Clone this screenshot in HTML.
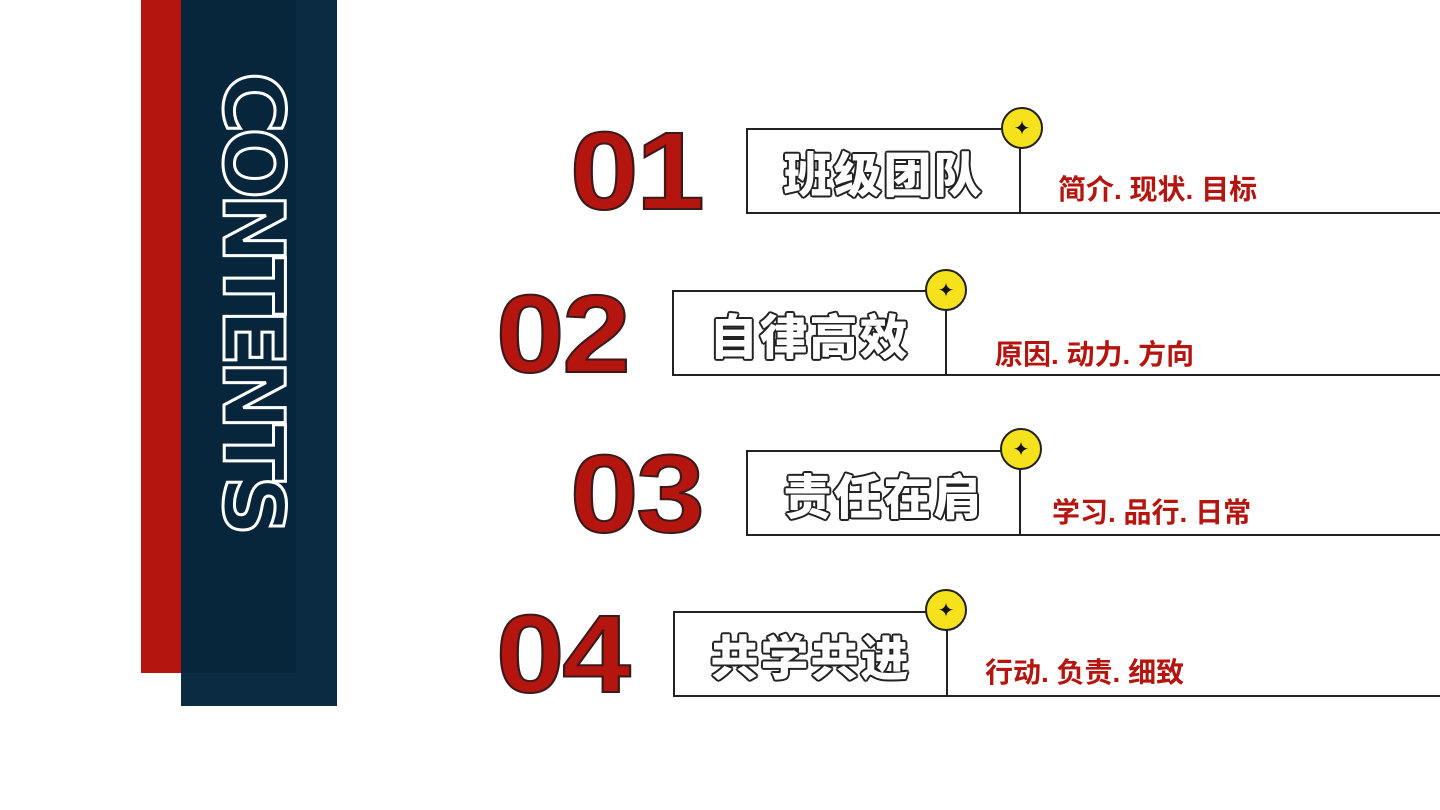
<!DOCTYPE html>
<html><head><meta charset="utf-8"><style>
body{margin:0;width:1440px;height:810px;background:#fff;position:relative;overflow:hidden;font-family:"Liberation Sans","Noto Sans CJK SC",sans-serif}
.a{position:absolute}
.num{position:absolute;font-weight:bold;font-size:110px;line-height:1;color:#b5150f;-webkit-text-stroke:2px #3a1a1a;letter-spacing:-2px;transform:scaleX(1.12);transform-origin:left top}
.box{position:absolute;width:275px;height:86px;border:2px solid #222;box-sizing:border-box;display:flex;align-items:center;justify-content:center;font-size:48px;font-weight:900;color:#fff;letter-spacing:2px;font-family:"Noto Sans CJK SC",sans-serif;
text-shadow:2px 0 #222,-2px 0 #222,0 2px #222,0 -2px #222,1.4px 1.4px #222,-1.4px 1.4px #222,1.4px -1.4px #222,-1.4px -1.4px #222}
.line{position:absolute;height:2px;background:#222;right:0}
.dot{position:absolute;width:42px;height:42px;border-radius:50%;background:#f5e11c;border:2px solid #222;box-sizing:border-box;display:flex;align-items:center;justify-content:center;font-size:20px;color:#111}
.sub{position:absolute;font-size:28px;font-weight:bold;color:#b5150f;font-family:"Liberation Sans","Noto Sans CJK SC",sans-serif;line-height:1}
</style></head><body>
<div class="a" style="left:141px;top:0;width:40px;height:673px;background:#b5150f"></div>
<div class="a" style="left:181px;top:0;width:156px;height:706px;background:#0a2b41"></div>
<div class="a" style="left:181px;top:0;width:115px;height:673px;background:#07263b"></div>
<div class="a" style="left:208px;top:72px;width:90px;height:470px;writing-mode:vertical-rl;font-size:84px;font-weight:900;color:transparent;-webkit-text-stroke:3px #fff;line-height:90px;letter-spacing:-6px;font-family:'DejaVu Sans',sans-serif">CONTENTS</div>

<div class="num" style="left:570px;top:117px">01</div>
<div class="box" style="left:746px;top:128px">班级团队</div>
<div class="line" style="left:1020px;top:212px"></div>
<div class="dot" style="left:1001px;top:107px">✦</div>
<div class="sub" style="left:1058px;top:176px">简介. 现状. 目标</div>

<div class="num" style="left:496px;top:280px">02</div>
<div class="box" style="left:672px;top:290px">自律高效</div>
<div class="line" style="left:945px;top:374px"></div>
<div class="dot" style="left:925px;top:269px">✦</div>
<div class="sub" style="left:995px;top:341px">原因. 动力. 方向</div>

<div class="num" style="left:570px;top:440px">03</div>
<div class="box" style="left:746px;top:450px">责任在肩</div>
<div class="line" style="left:1020px;top:534px"></div>
<div class="dot" style="left:1000px;top:428px">✦</div>
<div class="sub" style="left:1052px;top:499px">学习. 品行. 日常</div>

<div class="num" style="left:496px;top:600px">04</div>
<div class="box" style="left:673px;top:611px">共学共进</div>
<div class="line" style="left:947px;top:695px"></div>
<div class="dot" style="left:925px;top:589px">✦</div>
<div class="sub" style="left:985px;top:659px">行动. 负责. 细致</div>
</body></html>
